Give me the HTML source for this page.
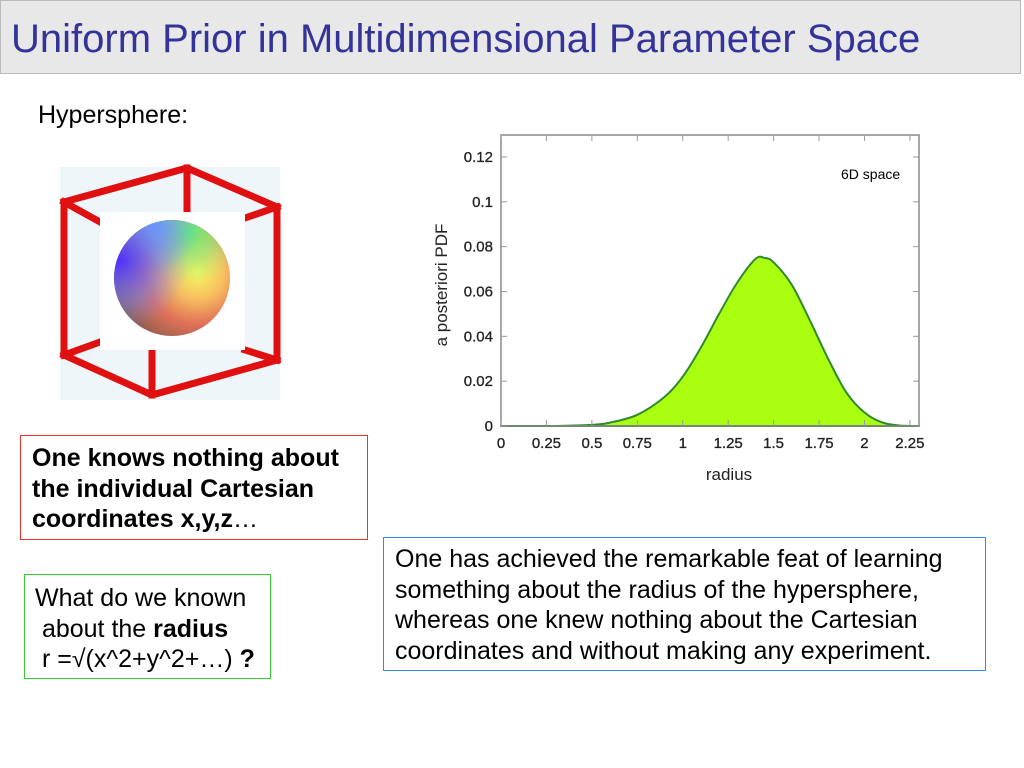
<!DOCTYPE html>
<html><head><meta charset="utf-8"><style>
body{margin:0;width:1024px;height:768px;background:#fff;font-family:"Liberation Sans",sans-serif;position:relative;overflow:hidden}
.abs{position:absolute}
#title{left:0;top:0;width:1021px;height:74px;background:#e8e8e8;border:1px solid #bbb;box-sizing:border-box}
#title span{position:absolute;left:10px;top:16px;font-size:40px;color:#333399;white-space:nowrap}
.box{box-sizing:border-box;font-size:25px;line-height:30.5px;color:#000}
</style></head><body>
<div id="title" class="abs"><span>Uniform Prior in Multidimensional Parameter Space</span></div>
<div class="abs" style="left:38px;top:101px;font-size:25px">Hypersphere:</div>
<svg class="abs" style="left:0;top:0" width="1024" height="768">
<defs>
<radialGradient id="sg" cx="0.72" cy="0.45" r="0.75">
<stop offset="0" stop-color="#f4f860"/><stop offset="0.3" stop-color="#f8c060"/><stop offset="0.6" stop-color="#e07058"/><stop offset="1" stop-color="#7a5a48"/></radialGradient>
<radialGradient id="sb" cx="0.05" cy="0.35" r="0.6"><stop offset="0" stop-color="#5030ff"/><stop offset="0.6" stop-color="#7080ff" stop-opacity="0.5"/><stop offset="1" stop-color="#8090ff" stop-opacity="0"/></radialGradient>
<radialGradient id="sgr" cx="0.65" cy="0.1" r="0.45"><stop offset="0" stop-color="#60f070"/><stop offset="0.5" stop-color="#80f080" stop-opacity="0.6"/><stop offset="1" stop-color="#a0f080" stop-opacity="0"/></radialGradient>
<radialGradient id="sc" cx="0.35" cy="0.05" r="0.4"><stop offset="0" stop-color="#60a0ff"/><stop offset="1" stop-color="#60a0ff" stop-opacity="0"/></radialGradient>
</defs>
<rect x="60" y="167" width="220" height="233" fill="#eef6fa"/>
<g stroke="#e01010" stroke-width="7" fill="none" stroke-linecap="square">
<path d="M64 202L187 168L277 207M64 202L100 222M277 207L245 218M187 168L187 212M64 202L64 355M277 207L277 360M64 355L152 395L277 360M152 395L152 350M64 355L100 342M277 360L245 350"/></g>
<rect x="100" y="212" width="145" height="138" fill="#fff"/>
<circle cx="172" cy="278" r="58" fill="url(#sg)"/>
<circle cx="172" cy="278" r="58" fill="url(#sgr)"/>
<circle cx="172" cy="278" r="58" fill="url(#sc)"/>
<circle cx="172" cy="278" r="58" fill="url(#sb)"/>
</svg>
<div class="abs box" style="left:20px;top:435px;width:348px;height:105px;border:1px solid #e33;padding:7px 6px 0 11px;font-weight:bold">One knows nothing about the individual Cartesian coordinates x,y,z<span style="font-weight:normal">…</span></div>
<div class="abs box" style="left:24px;top:574px;width:247px;height:105px;border:1px solid #3c3;padding:8px 0 0 10px;white-space:nowrap">What do we known<br>&nbsp;about the <b>radius</b><br>&nbsp;r =√(x^2+y^2+…) <b>?</b></div>
<div class="abs box" style="left:383px;top:537px;width:603px;height:134px;border:1px solid #38e;padding:6px 4px 0 11px">One has achieved the remarkable feat of learning something about the radius of the hypersphere, whereas one knew nothing about the Cartesian coordinates and without making any experiment.</div>
<svg id="chart" class="abs" style="left:0;top:0" width="1024" height="768"></svg>
<script>
const radii=[0,0.3,0.5,0.6,0.75,0.9,1.0,1.1,1.2,1.3,1.4,1.45,1.5,1.6,1.7,1.8,1.9,2.0,2.1,2.2,2.3];
const pdf=[0,0,0.0005,0.0015,0.005,0.013,0.022,0.035,0.05,0.064,0.0745,0.075,0.073,0.063,0.047,0.03,0.015,0.006,0.0015,0.0002,0];
const xTicks=[0,0.25,0.5,0.75,1,1.25,1.5,1.75,2,2.25];
const xTickLabels=["0","0.25","0.5","0.75","1","1.25","1.5","1.75","2","2.25"];
const yTicks=[0,0.02,0.04,0.06,0.08,0.1,0.12];
const yTickLabels=["0","0.02","0.04","0.06","0.08","0.1","0.12"];
const svg=document.getElementById('chart');const NS='http://www.w3.org/2000/svg';
const X0=501,X1=919,Y0=426,Y1=135,XMAX=2.3,YMAX=0.1298;
const sx=v=>X0+v/XMAX*(X1-X0), sy=v=>Y0-v/YMAX*(Y0-Y1);
function mk(t,a){const e=document.createElementNS(NS,t);for(const k in a)e.setAttribute(k,a[k]);svg.appendChild(e);return e;}
const P=radii.map((r,i)=>[sx(r),sy(pdf[i])]);
let d='M'+P[0][0]+' '+P[0][1];
for(let i=0;i<P.length-1;i++){
 const p0=P[Math.max(0,i-1)],p1=P[i],p2=P[i+1],p3=P[Math.min(P.length-1,i+2)];
 const c1=[p1[0]+(p2[0]-p0[0])/6,p1[1]+(p2[1]-p0[1])/6],c2=[p2[0]-(p3[0]-p1[0])/6,p2[1]-(p3[1]-p1[1])/6];
 d+=' C'+c1[0].toFixed(1)+' '+Math.min(Y0,c1[1]).toFixed(1)+' '+c2[0].toFixed(1)+' '+Math.min(Y0,c2[1]).toFixed(1)+' '+p2[0].toFixed(1)+' '+p2[1].toFixed(1);
}
d+=' Z';
const area=mk('path',{d:d,fill:'#aaff11',stroke:'#2e8a2a','stroke-width':2,'stroke-linejoin':'round'});


const fr=mk('rect',{x:X0,y:Y1,width:X1-X0,height:Y0-Y1,fill:'none',stroke:'#888','stroke-width':1.5});


xTicks.forEach((v,i)=>{
 mk('line',{x1:sx(v),x2:sx(v),y1:Y0,y2:Y0-6,stroke:'#999'});mk('line',{x1:sx(v),x2:sx(v),y1:Y1,y2:Y1+6,stroke:'#999'});
 const t=mk('text',{x:sx(v),y:Y0+22,'text-anchor':'middle','font-size':15,fill:'#222',stroke:'#222','stroke-width':0.3});t.textContent=xTickLabels[i];
 
 
});
yTicks.forEach((v,i)=>{
 mk('line',{x1:X0,x2:X0+6,y1:sy(v),y2:sy(v),stroke:'#999'});mk('line',{x1:X1,x2:X1-6,y1:sy(v),y2:sy(v),stroke:'#999'});
 const t=mk('text',{x:X0-8,y:sy(v)+5,'text-anchor':'end','font-size':15,fill:'#222',stroke:'#222','stroke-width':0.3});t.textContent=yTickLabels[i];
 
 
});
const xt=mk('text',{x:729,y:480,'text-anchor':'middle','font-size':17,fill:'#222'});xt.textContent='radius';


const yt=mk('text',{x:447,y:285,'text-anchor':'middle','font-size':17,fill:'#222',transform:'rotate(-90 447 285)'});yt.textContent='a posteriori PDF';


const lg=mk('text',{x:841,y:179,'font-size':14,fill:'#000'});lg.textContent='6D space';


</script>
</body></html>
